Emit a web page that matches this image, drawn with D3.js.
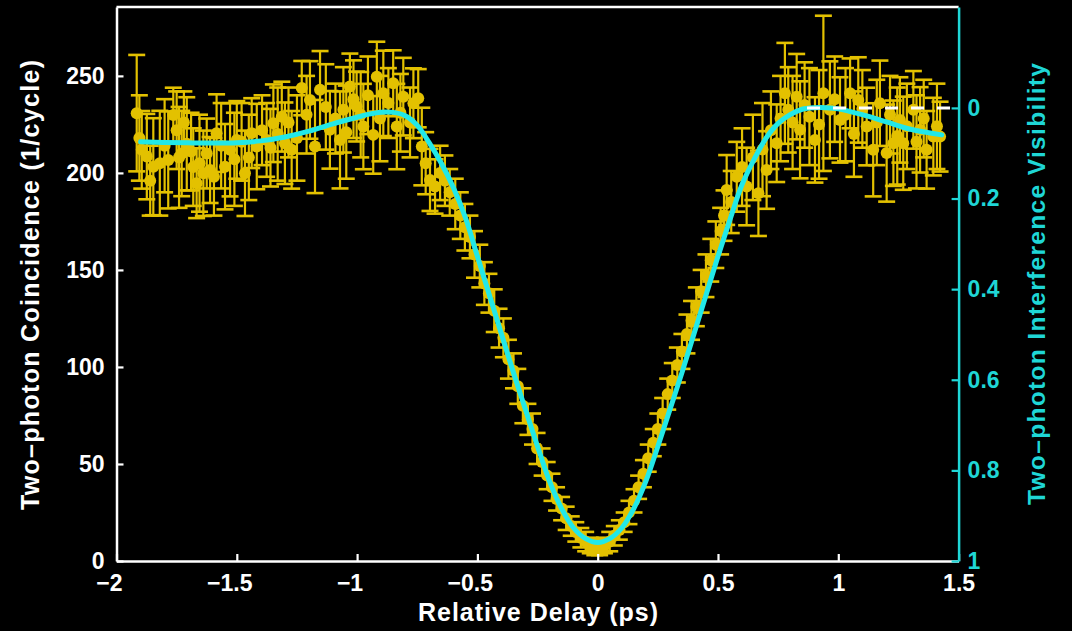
<!DOCTYPE html>
<html>
<head>
<meta charset="utf-8">
<script src="https://cdn.jsdelivr.net/npm/d3@7"></script>
<style>
  html, body { margin: 0; padding: 0; background: #000; }
  svg { display: block; }
  text { font-family: "Liberation Sans", Arial, Helvetica, sans-serif; font-weight: bold; }
</style>
</head>
<body>
<svg id="chart" width="1072" height="631"></svg>
<script>
// Measured two-photon coincidences versus relative delay (ps)
const delay = [
  -1.916, -1.895, -1.874, -1.847, -1.820, -1.785, -1.764, -1.750, -1.729, -1.708,
  -1.681, -1.667, -1.639, -1.611, -1.584, -1.549, -1.528, -1.500, -1.466, -1.438,
  -1.417, -1.376, -1.348, -1.313, -1.300, -1.272, -1.230, -1.196, -1.175, -1.154,
  -1.113, -1.071, -1.057, -1.030, -1.002, -0.974, -0.933, -0.918, -0.891, -0.850,
  -0.835, -0.808, -0.766, -0.746, -0.731, -0.697, -0.676,
  -1.905, -1.860, -1.800, -1.740, -1.720, -1.690, -1.655, -1.625, -1.595, -1.565,
  -1.510, -1.480, -1.450, -1.395, -1.360, -1.330, -1.285, -1.250, -1.210, -1.130,
  -1.090, -1.045, -1.015, -0.985, -0.955, -0.905, -0.870, -0.820, -0.780, -0.715,
  -0.655, -0.635, -0.615, -0.592, -0.571, -0.552, -0.531, -0.512, -0.490, -0.471,
  -0.452, -0.430, -0.410, -0.392, -0.371, -0.350, -0.332, -0.311, -0.290, -0.271,
  -0.252, -0.231, -0.210, -0.190, -0.171, -0.150, -0.131, -0.110, -0.091, -0.070,
  -0.050, -0.031, -0.012, 0.008, 0.028, 0.050, 0.069, 0.090, 0.110, 0.130,
  0.151, 0.170, 0.190, 0.210, 0.231, 0.250, 0.270, 0.291, 0.310, 0.331,
  0.350, 0.371, 0.390, 0.410, 0.430, 0.450, 0.470, 0.491, 0.511, 0.525,
  0.536, 0.578, 0.619, 0.668, 0.702, 0.744, 0.778, 0.792, 0.827, 0.841,
  0.903, 0.938, 0.965, 1.007, 1.049, 1.083, 1.118, 1.145, 1.173, 1.201,
  1.229, 1.256, 1.270, 1.312, 1.340, 1.367, 1.395, 1.423,
  0.555, 0.600, 0.645, 0.685, 0.720, 0.760, 0.810, 0.860, 0.880, 0.920,
  0.985, 1.030, 1.065, 1.100, 1.160, 1.215, 1.245, 1.285, 1.325, 1.355,
  1.410
];
const counts = [
  230.8, 211.9, 208.4, 203.2, 205.0, 206.7, 229.9, 222.0, 210.0, 215.0,
  203.0, 194.7, 199.8, 201.5, 220.5, 203.2, 211.9, 217.0, 199.8, 220.5,
  213.6, 217.0, 225.6, 229.0, 215.3, 211.9, 243.7, 237.6, 213.6, 242.8,
  222.2, 217.0, 232.5, 244.5, 234.2, 223.9, 219.6, 249.6, 241.0, 246.2,
  223.9, 239.3, 235.9, 238.5, 213.6, 196.4, 193.0,
  218, 196, 214, 208, 226, 211, 205, 210, 198, 214,
  207, 216, 208, 222, 213, 220, 226, 218, 230, 234,
  228, 221, 238, 230, 240, 228, 236, 231, 226, 205,
  200, 196, 190, 184, 178, 172, 167, 158, 152, 143,
  138, 129, 120, 115, 104, 98, 90, 80, 73, 68,
  58, 51, 44, 38, 32, 27, 22, 18, 15, 12,
  10, 8, 7, 7, 8, 10, 13, 16, 20, 25,
  31, 38, 45, 53, 61, 68, 76, 86, 93, 101,
  108, 117, 124, 131, 139, 147, 155, 163, 170, 178,
  191.2, 198.0, 193.0, 189.5, 201.5, 215.3, 241.0, 232.5, 239.3, 222.2,
  217.0, 241.0, 232.5, 227.3, 241.0, 237.6, 223.9, 211.9, 235.9, 210.2,
  215.3, 227.3, 215.3, 232.5, 222.2, 211.9, 218.7, 218.7,
  185, 203, 208, 212, 222, 228, 226, 235, 229, 225,
  238, 230, 220, 233, 226, 230, 219, 224, 216, 228,
  224
];
const errors = [
  30, 20, 22, 25, 27, 25, 14, 20, 22, 24,
  20, 18, 22, 17, 20, 22, 24, 20, 22, 18,
  22, 19, 20, 18, 21, 20, 14, 20, 24, 20,
  20, 25, 22, 17, 18, 22, 20, 18, 22, 17,
  22, 20, 18, 15, 20, 16, 14,
  22, 18, 24, 26, 16, 20, 25, 18, 20, 22,
  24, 20, 22, 18, 20, 24, 18, 22, 20, 22,
  18, 24, 20, 22, 20, 22, 18, 20, 18, 16,
  14, 13, 12, 13, 12, 12, 11, 12, 11, 11,
  10, 11, 10, 10, 10, 9, 9, 9, 8, 8,
  8, 7, 7, 7, 6, 6, 6, 5, 5, 5,
  5, 4, 4, 4, 4, 5, 5, 5, 5, 6,
  6, 6, 7, 7, 7, 8, 8, 8, 9, 9,
  9, 10, 10, 10, 11, 11, 11, 12, 12, 13,
  18, 18, 20, 22, 20, 20, 26, 22, 22, 25,
  22, 40, 25, 22, 18, 22, 20, 24, 22, 25,
  22, 22, 24, 20, 22, 20, 20, 18,
  16, 20, 22, 24, 20, 22, 24, 22, 25, 28,
  22, 24, 22, 20, 22, 20, 25, 22, 24, 20,
  22
];

// Fitted interference curve
const fitDelay = [
  -1.9, -1.8, -1.7, -1.6, -1.5, -1.4, -1.3, -1.2, -1.1, -1.0,
  -0.95, -0.9, -0.85, -0.8, -0.75, -0.7, -0.65, -0.6, -0.55, -0.5,
  -0.45, -0.4, -0.35, -0.3, -0.25, -0.2, -0.15, -0.1, -0.05, 0,
  0.05, 0.1, 0.15, 0.2, 0.25, 0.3, 0.35, 0.4, 0.45, 0.5,
  0.55, 0.6, 0.65, 0.7, 0.75, 0.8, 0.85, 0.9, 0.95, 1.0,
  1.1, 1.2, 1.3, 1.43
];
const fitCounts = [
  216, 215.7, 215.5, 215.4, 215.6, 216.5, 218.5, 221.5, 225.3, 228.7,
  230.3, 231.3, 231.2, 229.5, 224.5, 215.5, 205, 192.5, 177, 157,
  137, 117, 97, 78, 59, 41, 27, 17, 11.5, 9.5,
  11.5, 17, 27, 41, 59, 78, 97, 117, 137, 157,
  176, 194, 207, 218, 225.5, 230, 232.8, 233.6, 233.6, 233,
  230, 226.3, 222.5, 219.6
];

// Axis ticks and labels
const xTicks = [-2, -1.5, -1, -0.5, 0, 0.5, 1, 1.5];
const xTickLabels = ["\u22122", "\u22121.5", "\u22121", "\u22120.5", "0", "0.5", "1", "1.5"];
const yTicks = [0, 50, 100, 150, 200, 250];
const visTicks = [0, 0.2, 0.4, 0.6, 0.8, 1];
const visTickLabels = ["0", "0.2", "0.4", "0.6", "0.8", "1"];

const xTitle = "Relative Delay (ps)";
const yTitle = "Two\u2013photon Coincidence (1/cycle)";
const visTitle = "Two\u2013photon Interference Visibility";

// Count level corresponding to zero visibility (uncorrelated baseline)
const baselineCount = 233.5;
const dashedFrom = 0.87;

const YELLOW = "#e3c100";
const CYAN = "#22e8e8";
const CYAN_AXIS = "#1fd6d6";

const margin = { left: 116.5, right: 958.6, top: 7, bottom: 561 };
const yMax = 285.5;

const svg = d3.select("#chart");
svg.append("rect").attr("width", 1072).attr("height", 631).attr("fill", "#000");

const x = d3.scaleLinear().domain([-2, 1.5]).range([margin.left, margin.right]);
const y = d3.scaleLinear().domain([0, yMax]).range([margin.bottom, margin.top]);
const yVis = d3.scaleLinear()
  .domain([1, 1 - yMax / baselineCount])
  .range([margin.bottom, margin.top]);

const data = delay.map((d, i) => ({ x: d, y: counts[i], e: errors[i] }));

// Error bars
const bars = svg.append("g").attr("stroke", YELLOW);
bars.selectAll("line.v").data(data).join("line")
  .attr("class", "v")
  .attr("x1", d => x(d.x)).attr("x2", d => x(d.x))
  .attr("y1", d => y(d.y - d.e)).attr("y2", d => y(d.y + d.e))
  .attr("stroke-width", 2.2);
const capHalf = 8.5;
bars.selectAll("line.top").data(data).join("line")
  .attr("class", "top")
  .attr("x1", d => x(d.x) - capHalf).attr("x2", d => x(d.x) + capHalf)
  .attr("y1", d => y(d.y + d.e)).attr("y2", d => y(d.y + d.e))
  .attr("stroke-width", 2.6);
bars.selectAll("line.bot").data(data).join("line")
  .attr("class", "bot")
  .attr("x1", d => x(d.x) - capHalf).attr("x2", d => x(d.x) + capHalf)
  .attr("y1", d => y(d.y - d.e)).attr("y2", d => y(d.y - d.e))
  .attr("stroke-width", 2.6);

// Markers
svg.append("g").selectAll("circle").data(data).join("circle")
  .attr("cx", d => x(d.x)).attr("cy", d => y(d.y))
  .attr("r", 6).attr("fill", YELLOW);

// Fit curve
const fit = fitDelay.map((d, i) => [d, fitCounts[i]]);
svg.append("path")
  .attr("d", d3.line().x(d => x(d[0])).y(d => y(d[1])).curve(d3.curveCatmullRom.alpha(0.5))(fit))
  .attr("fill", "none").attr("stroke", CYAN).attr("stroke-width", 5)
  .attr("stroke-linecap", "round").attr("stroke-linejoin", "round");

// Zero-visibility reference
svg.append("line")
  .attr("x1", x(dashedFrom)).attr("x2", x(1.5))
  .attr("y1", y(baselineCount)).attr("y2", y(baselineCount))
  .attr("stroke", "#ffffff").attr("stroke-width", 3)
  .attr("stroke-dasharray", "13,13");

// Frame top edge
svg.append("line")
  .attr("x1", margin.left).attr("x2", margin.right)
  .attr("y1", margin.top).attr("y2", margin.top)
  .attr("stroke", "#fff").attr("stroke-width", 2.5);

function styleAxis(g, color) {
  g.select(".domain").attr("stroke", color).attr("stroke-width", 2.5);
  g.selectAll(".tick line").attr("stroke", color).attr("stroke-width", 2.2);
  g.selectAll(".tick text").attr("fill", color).attr("font-size", 23)
    .attr("font-family", "'Liberation Sans', Arial, Helvetica, sans-serif")
    .attr("font-weight", "bold");
}

// Bottom axis
const gx = svg.append("g").attr("transform", `translate(0,${margin.bottom})`)
  .call(d3.axisBottom(x).tickValues(xTicks)
    .tickFormat((d, i) => xTickLabels[i])
    .tickSizeInner(-7).tickSizeOuter(0).tickPadding(14));
styleAxis(gx, "#fff");
// the minus sign hangs to the left of the centred digits
gx.selectAll(".tick text").attr("dx", (d, i) => xTickLabels[i].startsWith("\u2212") ? "-0.33em" : 0);

// Left axis
const gy = svg.append("g").attr("transform", `translate(${margin.left},0)`)
  .call(d3.axisLeft(y).tickValues(yTicks).tickFormat(d3.format("d"))
    .tickSizeInner(-7).tickSizeOuter(0).tickPadding(12));
styleAxis(gy, "#fff");

// Right axis: visibility
const gv = svg.append("g").attr("transform", `translate(${margin.right},0)`)
  .call(d3.axisRight(yVis).tickValues(visTicks)
    .tickFormat((d, i) => visTickLabels[i])
    .tickSizeInner(-7).tickSizeOuter(0).tickPadding(9));
styleAxis(gv, CYAN_AXIS);

// Titles
svg.append("text")
  .attr("x", 538).attr("y", 621)
  .attr("text-anchor", "middle").attr("fill", "#fff").attr("font-size", 25)
  .attr("textLength", 240).attr("lengthAdjust", "spacing")
  .text(xTitle);

svg.append("text")
  .attr("transform", "translate(39,285) rotate(-90)")
  .attr("text-anchor", "middle").attr("fill", "#fff").attr("font-size", 25)
  .attr("textLength", 450).attr("lengthAdjust", "spacing")
  .text(yTitle);

svg.append("text")
  .attr("transform", "translate(1045,284) rotate(-90)")
  .attr("text-anchor", "middle").attr("fill", CYAN_AXIS).attr("font-size", 24.5)
  .attr("textLength", 442).attr("lengthAdjust", "spacing")
  .text(visTitle);
</script>
</body>
</html>
